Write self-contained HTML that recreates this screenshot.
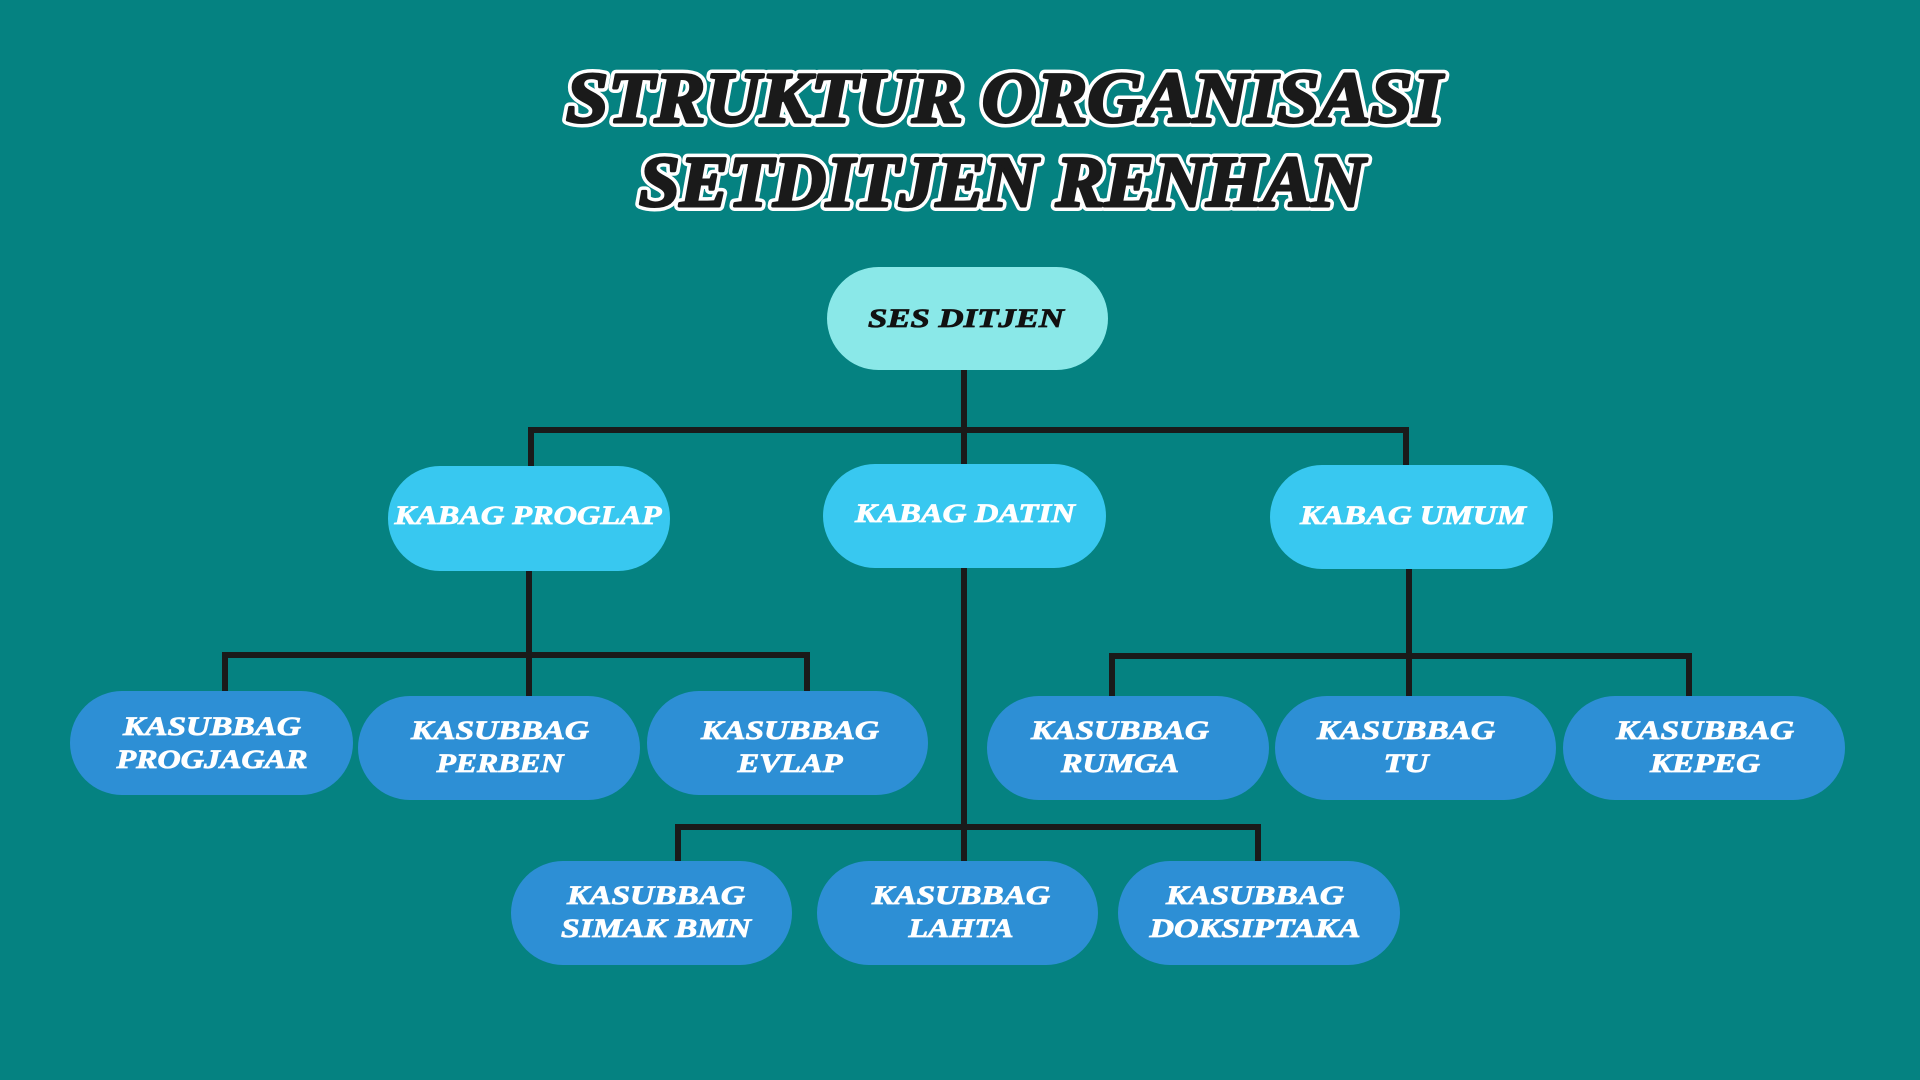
<!DOCTYPE html>
<html><head><meta charset="utf-8"><style>
html,body{margin:0;padding:0;background:#058281;}
svg{display:block}
text{font-family:"Liberation Serif",serif;font-weight:bold;font-style:italic;}
.t{font-size:72px;}
.tw{fill:#fff;stroke:#fff;stroke-width:10;stroke-linejoin:round;}
.tb{fill:#1a1a1a;stroke:#1a1a1a;stroke-width:3;stroke-linejoin:round;}
.n{fill:#fff;stroke:#fff;stroke-width:0.8;font-size:26px;}
.d{fill:#111;stroke:#111;stroke-width:0.8;font-size:26px;}
</style></head><body>
<svg width="1920" height="1080" viewBox="0 0 1920 1080" xmlns="http://www.w3.org/2000/svg">
<rect width="1920" height="1080" fill="#058281"/>
<text class="t tw" x="1004" y="122" text-anchor="middle" textLength="876" lengthAdjust="spacingAndGlyphs">STRUKTUR ORGANISASI</text>
<text class="t tb" x="1004" y="122" text-anchor="middle" textLength="876" lengthAdjust="spacingAndGlyphs">STRUKTUR ORGANISASI</text>
<text class="t tw" x="1002" y="206" text-anchor="middle" textLength="726" lengthAdjust="spacingAndGlyphs">SETDITJEN RENHAN</text>
<text class="t tb" x="1002" y="206" text-anchor="middle" textLength="726" lengthAdjust="spacingAndGlyphs">SETDITJEN RENHAN</text>
<g stroke="#1a1a1a" stroke-width="6" fill="none">
<path d="M964 370V464M531 466V430H1406V466"/>
<path d="M529 571V696M225 691V655H807V691"/>
<path d="M964 568V861M678 861V827H1258V861"/>
<path d="M1409 569V696M1112 696V656H1689V696"/>
</g>
<rect x="827" y="267" width="281" height="103" rx="51.5" fill="#8AE8E8"/>
<g fill="#38C8F0">
<rect x="388" y="466" width="282" height="105" rx="52"/>
<rect x="823" y="464" width="283" height="104" rx="52"/>
<rect x="1270" y="465" width="283" height="104" rx="52"/>
</g>
<g fill="#2D8FD5">
<rect x="70" y="691" width="283" height="104" rx="52"/>
<rect x="358" y="696" width="282" height="104" rx="52"/>
<rect x="647" y="691" width="281" height="104" rx="52"/>
<rect x="987" y="696" width="282" height="104" rx="52"/>
<rect x="1275" y="696" width="281" height="104" rx="52"/>
<rect x="1563" y="696" width="282" height="104" rx="52"/>
<rect x="511" y="861" width="281" height="104" rx="52"/>
<rect x="817" y="861" width="281" height="104" rx="52"/>
<rect x="1118" y="861" width="282" height="104" rx="52"/>
</g>
<text class="d" x="966" y="327" text-anchor="middle" textLength="196" lengthAdjust="spacingAndGlyphs">SES DITJEN</text>
<text class="n" x="528" y="524" text-anchor="middle" textLength="267" lengthAdjust="spacingAndGlyphs">KABAG PROGLAP</text>
<text class="n" x="965" y="522" text-anchor="middle" textLength="220" lengthAdjust="spacingAndGlyphs">KABAG DATIN</text>
<text class="n" x="1413" y="524" text-anchor="middle" textLength="226" lengthAdjust="spacingAndGlyphs">KABAG UMUM</text>
<g text-anchor="middle">
<text class="n" x="212" y="735" textLength="178" lengthAdjust="spacingAndGlyphs">KASUBBAG</text>
<text class="n" x="212" y="768" textLength="191" lengthAdjust="spacingAndGlyphs">PROGJAGAR</text>
<text class="n" x="500" y="739" textLength="178" lengthAdjust="spacingAndGlyphs">KASUBBAG</text>
<text class="n" x="500" y="772" textLength="127" lengthAdjust="spacingAndGlyphs">PERBEN</text>
<text class="n" x="790" y="739" textLength="178" lengthAdjust="spacingAndGlyphs">KASUBBAG</text>
<text class="n" x="790" y="772" textLength="105" lengthAdjust="spacingAndGlyphs">EVLAP</text>
<text class="n" x="1120" y="739" textLength="178" lengthAdjust="spacingAndGlyphs">KASUBBAG</text>
<text class="n" x="1120" y="772" textLength="118" lengthAdjust="spacingAndGlyphs">RUMGA</text>
<text class="n" x="1406" y="739" textLength="178" lengthAdjust="spacingAndGlyphs">KASUBBAG</text>
<text class="n" x="1406" y="772" textLength="45" lengthAdjust="spacingAndGlyphs">TU</text>
<text class="n" x="1705" y="739" textLength="178" lengthAdjust="spacingAndGlyphs">KASUBBAG</text>
<text class="n" x="1705" y="772" textLength="110" lengthAdjust="spacingAndGlyphs">KEPEG</text>
<text class="n" x="656" y="904" textLength="178" lengthAdjust="spacingAndGlyphs">KASUBBAG</text>
<text class="n" x="656" y="937" textLength="190" lengthAdjust="spacingAndGlyphs">SIMAK BMN</text>
<text class="n" x="961" y="904" textLength="178" lengthAdjust="spacingAndGlyphs">KASUBBAG</text>
<text class="n" x="961" y="937" textLength="105" lengthAdjust="spacingAndGlyphs">LAHTA</text>
<text class="n" x="1255" y="904" textLength="178" lengthAdjust="spacingAndGlyphs">KASUBBAG</text>
<text class="n" x="1255" y="937" textLength="211" lengthAdjust="spacingAndGlyphs">DOKSIPTAKA</text>
</g>
</svg>
</body></html>
